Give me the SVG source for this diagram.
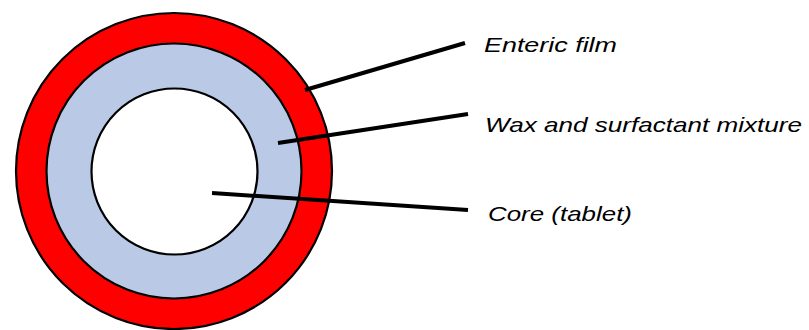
<svg xmlns="http://www.w3.org/2000/svg" width="809" height="330" viewBox="0 0 809 330">
<style>
.ring{stroke:#000;stroke-width:2.2}
.lead{stroke:#000;stroke-width:4;stroke-linecap:butt;fill:none}
.lbl{font-family:"Comic Sans MS","Liberation Sans",sans-serif;font-style:italic;font-size:21px;fill:#000}
</style>
<rect width="809" height="330" fill="#fff"/>
<g id="enteric-film"><circle class="ring" cx="174" cy="171" r="158" fill="#FF0000"/></g>
<g id="wax-layer"><circle class="ring" cx="174" cy="171" r="127.5" fill="#BACAE6"/></g>
<g id="core"><circle class="ring" cx="174.5" cy="171.5" r="83" fill="#FFFFFF"/></g>
<g id="connectors">
<line class="lead" x1="305" y1="90" x2="465" y2="43"/>
<line class="lead" x1="278" y1="143" x2="468" y2="114"/>
<line class="lead" x1="212" y1="193" x2="468" y2="210"/>
</g>
<g id="labels">
<text class="lbl" x="484" y="52" textLength="133" lengthAdjust="spacingAndGlyphs">Enteric film</text>
<text class="lbl" x="485" y="132" textLength="317" lengthAdjust="spacingAndGlyphs">Wax and surfactant mixture</text>
<text class="lbl" x="488" y="221" textLength="144" lengthAdjust="spacingAndGlyphs">Core (tablet)</text>
</g>
</svg>
